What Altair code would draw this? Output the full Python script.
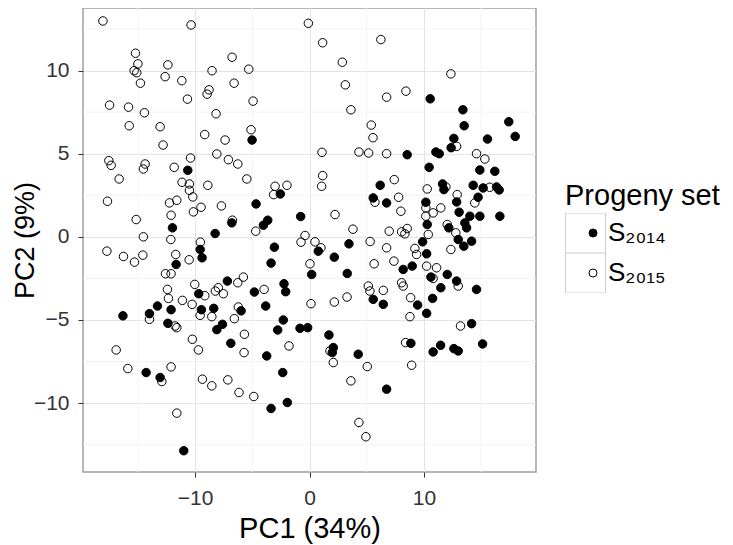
import altair as alt
import pandas as pd

set_names = ["S₂₀₁₄", "S₂₀₁₅"]

s2014_pc1 = [-5.02, 10.55, 13.41, 13.52, 17.42, 17.98, 15.56, 12.62, 12.38, 8.54, 11.05, 11.34,
             -10.64, -11.98, -8.25, -9.56, -9.39, -11.66, -9.68, -8.37, -9.45, -12.1, -13.29, -13.99, -16.31,
             -2.55, -4.67, -6.79, -4.03, -3.65, -0.77, -3.07, -3.36, 0.77, 2.17, 3.45, 0.19, 3.3, -7.18, -2.23,
             -2.08, -4.82, -3.83, -5.98,
             10.46, 14.89, 16.2, 6.18, 11.63, 11.75, 14.31, 15.18, 16.35, 16.58, 14.74, 5.57, 6.74, 10.17, 12.86,
             13.08, 14.02, 14.89, 16.64, 10.29, 13.58, 12.18, 13.73, 13.0, 14.17, 13.49, 9.89, 10.24, 8.19, 8.98,
             10.61, 12.04, 12.86, 11.48, 14.6, 10.76, 9.45, 5.57, 6.45, 10.24,
             -12.38, -14.28, -13.06, -10.99, -8.1,
             -7.61, -2.29, -2.78, -0.83, -0.16, -6.88, -3.74, 1.7, 2.08, 1.99, 4.26, -2.34, -1.94, -3.36,
             14.17, 8.86, 10.81, 11.46, 12.62, 13.0, 15.13, 6.74]
s2014_pc2 = [5.82, 8.3, 7.64, 6.68, 6.92, 6.04, 5.88, 5.92, 5.36, 4.94, 5.1, 5.0,
             4.0, 0.54, 0.2, -0.76, -1.26, -1.66, -3.42, -4.3, -4.38, -4.38, -4.16, -4.62, -4.75,
             2.58, 1.98, 0.84, 0.7, 1.0, 1.22, -0.62, -1.58, -0.86, -1.22, -0.42, -2.26, -2.2, -2.66, -2.82,
             -3.3, -3.32, -4.16, -4.45,
             4.18, 4.02, 3.94, 3.1, 3.18, 2.84, 3.1, 2.94, 3.0, 2.82, 2.38, 2.34, 2.04, 2.08, 2.1,
             1.48, 1.24, 1.24, 1.24, 0.74, 0.84, 0.54, 0.54, -0.16, -0.26, -0.56, -0.3, -1.02, -1.96, -1.76,
             -2.42, -2.26, -2.66, -3.06, -3.16, -3.7, -4.1, -3.76, -4.06, -4.6,
             -5.2, -8.16, -8.46, -12.86, -5.58,
             -5.26, -5.0, -5.6, -5.5, -5.46, -6.4, -7.16, -5.9, -6.66, -6.96, -7.06, -8.16, -9.96, -10.32,
             -5.22, -6.4, -6.92, -6.52, -6.72, -6.86, -6.44, -9.16]

s2015_pc1 = [-18.06, -10.35, -15.21, -15.0, -15.33, -15.1, -14.78, -12.38, -12.62, -11.16, -8.52, -8.78,
             -8.95, -10.67, -17.48, -15.82, -14.43, -8.17, -15.76, -13.06, -12.8, -9.16, -8.1, -17.54, -10.4,
             -17.34, -14.37, -14.52, -16.64, -11.83, -11.14, -10.5, -10.5, -10.2, -8.89, -17.66, -12.24, -11.6,
             -9.48, -10.15, -12.1, -7.7, -15.15, -14.52, -12.12, -9.54, -17.71, -16.26, -14.57, -15.3, -11.69,
             -10.52, -12.59, -12.1, -10.03, -12.42, -12.33, -11.11, -10.26, -9.15, -8.23,
             -0.1, 1.15, -6.77, -5.31, 2.87, -6.59, 3.13, -4.93, 3.62, 5.4, 5.55, -5.11, -7.38, 1.09, 4.32, 5.17,
             6.24, 12.36, 6.74, 8.43, 6.74, 12.86, 14.6, 15.33,
             -7.09, -6.27, -5.48, 1.15, 1.06, -3.01, -1.97, -3.13, 2.23, 3.8, -6.74, -4.7, -0.39, -0.74, 0.48,
             1.0, 5.3, 0.04, 5.65, -5.78, -6.27, -3.97, -7.97, -7.53, 5.14, 5.28, 0.13, 2.17, 3.28, -6.22,
             7.41, 7.79, 7.99, 5.72, 10.29, 10.17, 10.81, 11.48, 10.17, 11.92, 12.91, 14.45, 15.76, 12.04,
             12.79, 10.38, 8.05, 8.54, 8.34, 6.97, 6.74, 9.21, 9.36, 12.36, 7.38, 10.24, 11.11, 6.45, 8.05,
             8.19, 10.81, 13.0, 8.84,
             -13.99, -11.75, -11.6, -16.9, -10.24, -9.71, -15.88, -12.1, -12.91, -9.36, -8.54, -11.6, -9.56, -8.54,
             -6.57, -5.69, -5.72, -1.79, 1.79, 2.08, 5.05, 3.62, -7.14, -6.16, -4.87, 4.32, 4.93,
             8.78, 13.2, 8.4, 8.93]
s2015_pc2 = [12.98, 12.74, 11.04, 10.4, 9.99, 9.87, 9.24, 10.34, 9.63, 9.39, 9.99, 8.84,
             8.58, 8.28, 7.92, 7.8, 7.46, 7.4, 6.68, 6.62, 5.52, 6.15, 4.98, 4.58, 4.74,
             4.3, 4.38, 4.08, 3.48, 4.18, 3.28, 3.18, 2.8, 2.4, 3.1, 2.14, 2.04, 2.2,
             1.78, 1.5, 1.3, 1.86, 1.04, 0.0, -0.16, -0.32, -0.86, -1.18, -1.1, -1.52, -1.06,
             -1.38, -2.22, -2.22, -2.86, -3.16, -3.7, -3.82, -4.06, -3.54, -3.26,
             12.84, 11.67, 10.8, 10.08, 10.5, 9.24, 9.14, 8.16, 7.64, 6.72, 5.96, 6.44, 5.82, 5.08, 5.1, 5.04,
             11.86, 9.8, 8.4, 8.76, 5.0, 5.44, 5.0, 4.68,
             4.64, 4.38, 3.48, 3.68, 3.04, 3.04, 3.1, 2.54, 1.34, 0.46, 1.0, 0.34, 0.08, -0.32, -0.3,
             -0.66, -0.28, -1.62, -1.62, -2.42, -2.76, -3.16, -3.06, -3.42, -2.96, -3.26, -4.02, -3.92, -3.62, -4.22,
             3.44, 2.38, 1.54, 2.08, 2.88, 1.74, 1.44, 1.74, 1.24, 3.0, 2.54, 2.04, 2.98, 0.74,
             0.24, 0.14, 0.3, 0.5, 0.18, 0.34, -0.66, -0.7, -1.06, -0.76, -1.46, -1.76, -1.86, -3.22, -2.76,
             -2.96, -2.5, -2.96, -3.66,
             -4.96, -5.36, -5.46, -6.8, -6.16, -6.8, -7.92, -7.82, -8.7, -8.56, -8.96, -10.6, -4.72, -4.8,
             -4.92, -5.86, -6.96, -6.56, -6.86, -7.56, -7.8, -8.66, -8.6, -9.36, -9.6, -11.16, -12.02,
             -4.8, -5.36, -6.36, -7.72]

x_ticks = [-10, 0, 10]
y_ticks = [-10, -5, 0, 5, 10]
x_minor = [-15, -5, 5, 15]
y_minor = [-12.5, -7.5, -2.5, 2.5, 7.5, 12.5]
legend_keys = ["k1", "k2"]

FONT = "Liberation Sans, DejaVu Sans"

df = pd.DataFrame({
    "pc1": s2014_pc1 + s2015_pc1,
    "pc2": s2014_pc2 + s2015_pc2,
    "set": [set_names[0]] * len(s2014_pc1) + [set_names[1]] * len(s2015_pc1),
})

xscale = alt.Scale(domain=[-19.8, 19.8], nice=False, zero=False)
yscale = alt.Scale(domain=[-14.14, 13.76], nice=False, zero=False)

x_axis = alt.Axis(
    values=x_ticks, title="PC1 (34%)", grid=True, gridColor="#e4e4e4", gridWidth=1,
    domain=False, tickColor="#333333", tickSize=5, tickWidth=1,
    labelFont=FONT, labelFontSize=21, labelColor="#333333", labelPadding=10,
    titleFont=FONT, titleFontSize=29, titleFontWeight="normal", titleColor="black",
    titleBaseline="alphabetic", titleY=65,
)
y_axis = alt.Axis(
    values=y_ticks, title="PC2 (9%)", grid=True, gridColor="#e4e4e4", gridWidth=1,
    domain=False, tickColor="#333333", tickSize=5, tickWidth=1,
    labelFont=FONT, labelFontSize=21, labelColor="#333333", labelPadding=9,
    titleFont=FONT, titleFontSize=27, titleFontWeight="normal", titleColor="black",
    titleBaseline="alphabetic", titleX=-50, titleY=232, titleAngle=270,
)

vminor = alt.Chart(pd.DataFrame({"pc1": x_minor})).mark_rule(
    color="#f3f3f3", strokeWidth=1
).encode(x=alt.X("pc1:Q", scale=xscale, axis=x_axis))

hminor = alt.Chart(pd.DataFrame({"pc2": y_minor})).mark_rule(
    color="#f3f3f3", strokeWidth=1
).encode(y=alt.Y("pc2:Q", scale=yscale, axis=y_axis))

keys = alt.Chart(pd.DataFrame({"box": legend_keys})).mark_point(
    opacity=0, shape="square"
).encode(
    shape=alt.Shape("box:N", scale=alt.Scale(domain=legend_keys, range=["square", "square"]),
                    legend=alt.Legend(
                        title="Progeny set", orient="none", legendX=482, legendY=174,
                        titleFont=FONT, titleFontSize=29, titleFontWeight="normal",
                        titleColor="black", titlePadding=2, padding=0,
                        symbolSize=1600, symbolStrokeColor="#cccccc", symbolFillColor="transparent",
                        symbolStrokeWidth=1, symbolOpacity=1, clipHeight=40, rowPadding=0,
                        labelExpr="''", labelFontSize=1,
                    ))
)

points = alt.Chart(df).mark_point(
    filled=True, size=72, stroke="black", strokeWidth=1, opacity=1
).encode(
    x=alt.X("pc1:Q", scale=xscale, axis=x_axis),
    y=alt.Y("pc2:Q", scale=yscale, axis=y_axis),
    fill=alt.Fill("set:N", scale=alt.Scale(domain=set_names, range=["black", "transparent"]),
                  legend=alt.Legend(
                      title=None, orient="none", legendX=497, legendY=205, padding=0,
                      symbolType="circle", symbolSize=64, symbolStrokeColor="black",
                      symbolStrokeWidth=1, symbolOpacity=1, clipHeight=40, rowPadding=0,
                      labelFont=FONT, labelFontSize=26, labelColor="black", labelOffset=2,
                  )),
)

chart = alt.layer(vminor, hminor, keys, points).properties(
    width=453, height=464,
    autosize=alt.AutoSizeParams(type="none"),
    padding={"left": 75, "top": 0, "right": 189, "bottom": 72},
).configure_view(stroke="#9f9f9f", strokeWidth=1.5)

chart.save("out.html", embed_options={"renderer": "svg", "actions": False})
